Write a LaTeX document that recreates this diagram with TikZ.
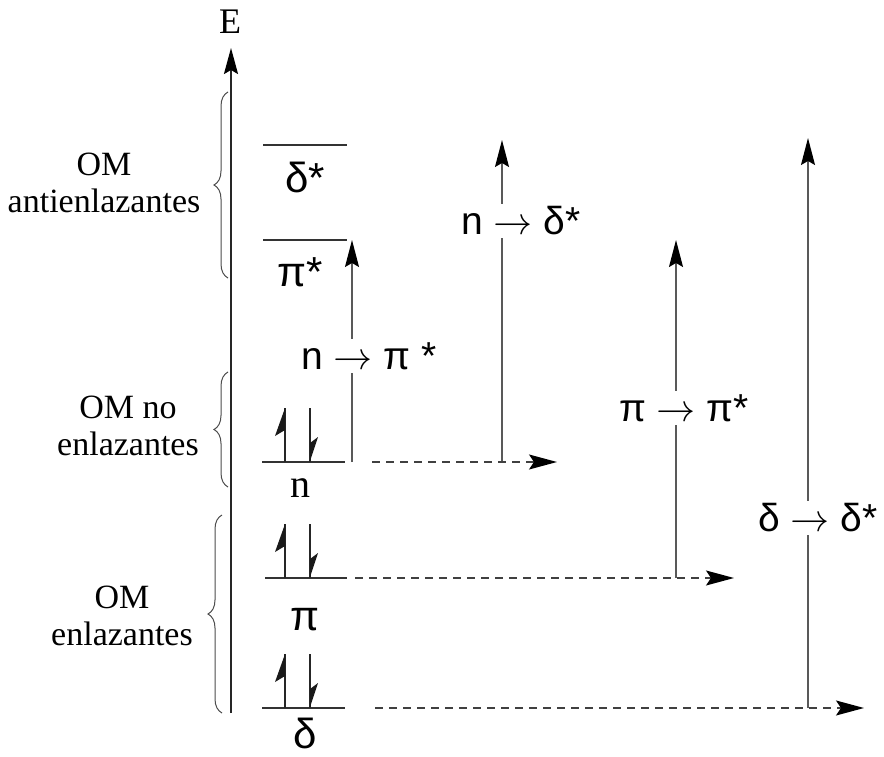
\documentclass[tikz,border=0pt]{standalone}
\usepackage{fontspec}
\setmainfont{Liberation Serif}
\setsansfont{Liberation Sans}
\newfontfamily\arrfont{Latin Modern Math}
\newcommand{\ra}{{\arrfont →}}
\usetikzlibrary{arrows.meta,decorations.pathreplacing}
\begin{document}
\begin{tikzpicture}[x=1pt,y=-1pt,
  lvl/.style={line width=1.8pt, draw=black!80},
  trans/.style={line width=1.4pt, draw=black!65, -{Stealth[length=27pt,width=14pt,inset=4pt,color=black]}},
  dashline/.style={line width=1.4pt, draw=black!75, dash pattern=on 8pt off 6pt, -{Stealth[length=28pt,width=15pt,inset=5pt,color=black]}},
  tlabel/.style={font=\sffamily\fontsize{39}{42}\selectfont, fill=white, inner sep=3pt},
  glabel/.style={font=\sffamily\fontsize{42}{46}\selectfont, inner sep=0pt},
  side/.style={font=\fontsize{34}{37}\selectfont, align=center, inner sep=0pt},
  brc/.style={decorate, decoration={brace, amplitude=14pt}, line width=1pt, draw=black!70},
  elec/.style={line width=1.6pt, draw=black!85},
  barb/.style={fill=black!90, draw=none},
]
\useasboundingbox (0,0) rectangle (884,757);

% energy axis
\coordinate (axB) at (231,713);
\coordinate (axT) at (231,48);
\draw[line width=2pt, draw=black!85, -{Stealth[length=26pt,width=14pt,inset=4pt,color=black]}] (axB) -- (axT);
\node[font=\fontsize{36}{38}\selectfont, inner sep=0pt] (E) at (230,22) {E};

% braces
\coordinate (b1a) at (228,278); \coordinate (b1b) at (228,92);
\coordinate (b2a) at (228,487); \coordinate (b2b) at (228,372);
\coordinate (b3a) at (222,713); \coordinate (b3b) at (222,515);
\draw[brc] (b1a) -- (b1b);
\draw[brc] (b2a) -- (b2b);
\draw[brc] (b3a) -- (b3b);
\node[side] (t1) at (104,183) {OM\\antienlazantes};
\node[side] (t2) at (128,426) {OM no\\enlazantes};
\node[side] (t3) at (122,616) {OM\\enlazantes};

% levels
\coordinate (dsL) at (263,145); \coordinate (dsR) at (347,145);
\coordinate (psL) at (263,240); \coordinate (psR) at (347,240);
\coordinate (nL) at (262,462); \coordinate (nR) at (345,462);
\coordinate (pL) at (265,578); \coordinate (pR) at (347,578);
\coordinate (dL) at (262,708); \coordinate (dR) at (345,708);
\draw[lvl] (dsL) -- (dsR);
\draw[lvl] (psL) -- (psR);
\draw[lvl] (nL) -- (nR);
\draw[lvl] (pL) -- (pR);
\draw[lvl] (dL) -- (dR);
\node[glabel] (ldS) at (305,177) {δ*};
\node[glabel] (lpS) at (300,272) {π*};
\node[font=\fontsize{40}{42}\selectfont, inner sep=0pt] (ln) at (300,488) {n};
\node[glabel] (lp) at (305,620) {π};
\node[glabel] (ld) at (305,733) {δ};

% electrons
\foreach \y/\nm in {462/n,578/p,708/d}{
  \draw[elec] (285,\y) -- (285,\y-54);
  \fill[barb] (285,\y-54) -- (275,\y-26) -- (285,\y-32) -- cycle;
  \draw[elec] (310,\y-54) -- (310,\y);
  \fill[barb] (310,\y-1) -- (318,\y-25) -- (310,\y-19) -- cycle;
}

% transitions
\coordinate (a1b) at (352,462); \coordinate (a1t) at (352,240);
\coordinate (a2b) at (502,462); \coordinate (a2t) at (502,140);
\coordinate (a3b) at (676,578); \coordinate (a3t) at (676,240);
\coordinate (a4b) at (808,708); \coordinate (a4t) at (808,138);
\draw[trans] (a1b) -- (a1t);
\draw[trans] (a2b) -- (a2t);
\draw[trans] (a3b) -- (a3t);
\draw[trans] (a4b) -- (a4t);
\node[tlabel] (L1) at (369,356) {n \ra{} π *};
\node[tlabel] (L2) at (521,221) {n \ra{} δ*};
\node[tlabel] (L3) at (684,408) {π \ra{} π*};
\node[tlabel] (L4) at (818,518) {δ \ra{} δ*};

% dashed
\coordinate (d1a) at (372,462); \coordinate (d1b) at (557,462);
\coordinate (d2a) at (355,578); \coordinate (d2b) at (734,578);
\coordinate (d3a) at (375,708); \coordinate (d3b) at (864,708);
\draw[dashline] (d1a) -- (d1b);
\draw[dashline] (d2a) -- (d2b);
\draw[dashline] (d3a) -- (d3b);
\end{tikzpicture}
\end{document}
